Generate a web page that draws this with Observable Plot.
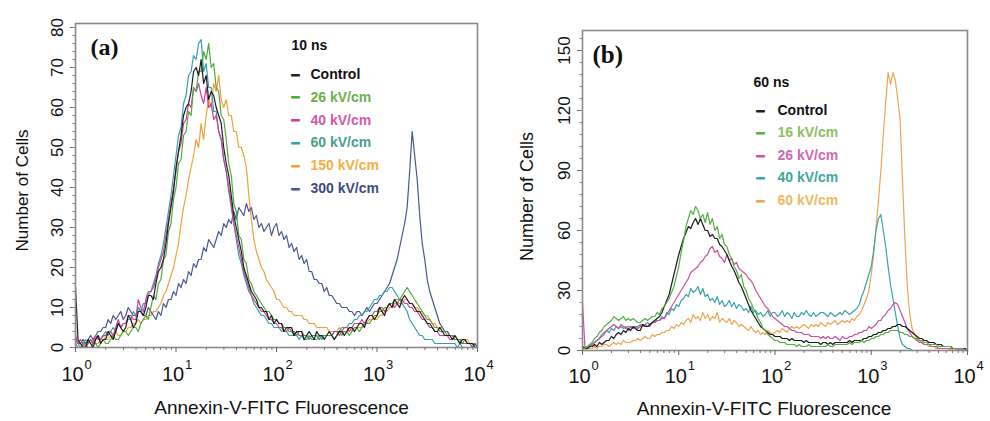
<!DOCTYPE html>
<html><head><meta charset="utf-8">
<script src="https://cdn.jsdelivr.net/npm/d3@7"></script>
<script src="https://cdn.jsdelivr.net/npm/@observablehq/plot@0.6"></script>
<style>
html,body{margin:0;padding:0;background:#fff;}
#wrap{position:relative;width:990px;height:421px;overflow:hidden;background:#fff;}
#pa{position:absolute;left:0;top:0;}
#pb{position:absolute;left:495px;top:0;}
svg{overflow:visible;}
</style></head><body>
<div id="wrap"><div id="pa"></div><div id="pb"></div></div>
<script>
// log10 of fluorescence channel (one row = a quarter decade)
const EXPONENTS = [
0.000,0.025,0.050,0.075,0.100,0.125,0.150,0.175,0.200,0.225,
0.250,0.275,0.300,0.325,0.350,0.375,0.400,0.425,0.450,0.475,
0.500,0.525,0.550,0.575,0.600,0.625,0.650,0.675,0.700,0.725,
0.750,0.775,0.800,0.825,0.850,0.875,0.900,0.925,0.950,0.975,
1.000,1.025,1.050,1.075,1.100,1.125,1.150,1.175,1.200,1.225,
1.250,1.275,1.300,1.325,1.350,1.375,1.400,1.425,1.450,1.475,
1.500,1.525,1.550,1.575,1.600,1.625,1.650,1.675,1.700,1.725,
1.750,1.775,1.800,1.825,1.850,1.875,1.900,1.925,1.950,1.975,
2.000,2.025,2.050,2.075,2.100,2.125,2.150,2.175,2.200,2.225,
2.250,2.275,2.300,2.325,2.350,2.375,2.400,2.425,2.450,2.475,
2.500,2.525,2.550,2.575,2.600,2.625,2.650,2.675,2.700,2.725,
2.750,2.775,2.800,2.825,2.850,2.875,2.900,2.925,2.950,2.975,
3.000,3.025,3.050,3.075,3.100,3.125,3.150,3.175,3.200,3.225,
3.250,3.275,3.300,3.325,3.350,3.375,3.400,3.425,3.450,3.475,
3.500,3.525,3.550,3.575,3.600,3.625,3.650,3.675,3.700,3.725,
3.750,3.775,3.800,3.825,3.850,3.875,3.900,3.925,3.950,3.975,
4.000];

const X_TICKS = [1, 10, 100, 1000, 10000];
const X_TICK_EXP = ["0", "1", "2", "3", "4"];
const X_MINOR = [2,3,4,5,6,7,8,9,20,30,40,50,60,70,80,90,200,300,400,500,600,700,800,900,2000,3000,4000,5000,6000,7000,8000,9000];

// ---------- Panel (a): 10 ns ----------
const A_NAMES = ["Control", "26 kV/cm", "40 kV/cm", "60 kV/cm", "150 kV/cm", "300 kV/cm"];
const A_LINE_COLORS = ["#1c1c1c", "#4ea83c", "#cc3f9a", "#35a0a8", "#f0a035", "#46568e"];
const A_TEXT_COLORS = ["#111111", "#6cb04e", "#d25aa8", "#4a9e92", "#f2b040", "#3c4a80"];
const A_Y_TICKS = [0, 10, 20, 30, 40, 50, 60, 70, 80];

const A_CONTROL = [
15,2,1,0,0,2,1,0,2,3,
1,2,2,4,3,2,4,6,5,4,
5,8,7,5,6,9,9,8,10,13,
13,12,16,19,20,22,26,31,35,39,
45,49,53,58,60,61,64,69,70,68,
72,66,68,62,64,63,60,58,56,50,
46,43,38,33,30,27,24,20,18,16,
14,13,12,10,10,9,9,7,8,6,
7,6,6,4,5,5,5,3,4,4,
4,2,3,4,3,2,4,3,3,2,
3,4,3,2,3,4,4,3,4,5,
5,4,5,6,6,5,7,8,8,7,
8,10,9,8,10,11,10,12,11,10,
12,13,12,11,11,10,9,9,8,7,
6,6,5,4,4,5,4,3,3,3,
2,3,2,1,2,2,1,1,1,0,
0];
const A_26 = [
1,0,0,1,1,0,0,1,1,0,
1,2,1,1,2,3,2,2,3,4,
4,3,4,5,5,4,6,7,8,7,
10,13,12,16,17,22,23,29,31,37,
40,46,47,53,54,59,58,65,64,69,
69,74,72,76,70,71,65,64,58,57,
52,46,43,36,34,28,27,22,21,17,
16,14,13,12,11,10,9,9,8,7,
7,6,6,5,5,4,4,4,3,4,
4,3,3,2,3,3,3,2,3,3,
3,3,3,2,3,4,3,4,4,3,
4,5,5,4,5,6,6,6,7,8,
8,9,9,10,10,11,11,12,12,12,
13,14,15,14,13,12,11,10,9,8,
7,7,6,5,5,4,4,4,3,3,
3,2,2,2,1,2,1,1,1,0,
0];
const A_40 = [
3,1,2,1,0,1,2,1,3,2,
2,3,3,4,4,3,5,7,5,6,
6,8,8,7,7,12,10,9,12,14,
14,15,17,20,22,24,28,32,36,40,
44,49,51,56,57,61,60,65,64,66,
63,61,65,60,61,57,58,54,52,47,
44,40,36,31,28,25,22,19,17,15,
13,12,11,10,9,9,8,7,7,6,
6,5,5,4,4,5,4,3,4,3,
3,3,3,2,3,3,3,2,3,3,
3,3,3,4,4,3,4,5,5,4,
5,6,6,6,7,6,7,8,8,9,
9,10,10,9,10,11,11,10,11,12,
12,11,11,10,10,9,9,8,7,7,
6,5,5,4,4,3,3,3,3,2,
2,2,2,1,1,1,1,1,1,0,
0];
const A_60 = [
2,1,0,1,2,1,2,1,2,3,
2,3,4,3,4,5,4,6,5,6,
6,7,7,9,8,10,9,11,11,13,
14,16,18,21,23,26,30,34,38,43,
48,53,55,61,63,68,69,73,72,76,
77,69,71,65,65,59,59,54,52,47,
44,39,35,31,27,23,21,18,16,14,
13,11,10,9,8,8,7,6,6,5,
5,5,4,4,4,3,3,3,3,2,
3,2,2,3,2,2,2,3,2,3,
3,3,3,4,4,4,5,5,5,6,
6,7,7,8,8,9,9,10,11,12,
12,13,13,14,14,15,15,14,13,12,
11,10,9,7,6,5,4,3,3,2,
2,2,2,1,1,1,1,1,1,1,
1,1,0,1,0,0,0,0,0,0,
0];
const A_150 = [
2,1,1,0,1,2,1,2,1,1,
2,3,2,2,3,3,4,3,3,4,
4,5,5,6,6,7,6,7,7,8,
8,9,9,10,11,13,14,16,18,20,
23,26,31,35,38,42,45,48,52,50,
56,52,58,62,60,66,64,68,62,60,
62,58,58,54,54,50,50,48,45,38,
32,27,24,22,20,19,17,16,15,14,
12,12,11,10,10,9,9,8,8,8,
8,7,7,6,6,6,5,5,5,5,
5,4,4,4,4,5,4,4,4,5,
4,5,5,5,5,6,6,7,7,7,
7,8,8,9,9,10,10,11,11,11,
11,12,12,11,11,10,10,9,9,8,
8,7,6,6,5,5,5,4,4,3,
3,3,2,2,2,2,2,1,1,1,
0];
const A_300 = [
2,1,1,2,1,2,3,2,3,4,
4,5,5,7,6,8,7,8,9,7,
8,10,9,8,8,10,9,8,8,10,
9,8,7,9,8,11,10,12,12,14,
13,16,15,17,16,19,18,21,20,22,
22,25,24,27,26,25,27,29,28,31,
30,32,31,34,32,35,34,33,36,34,
35,32,33,30,31,29,30,31,28,30,
31,28,29,27,28,25,26,24,25,22,
23,21,22,19,19,17,17,16,16,14,
15,13,13,12,11,11,10,10,10,9,
9,8,9,9,8,9,10,9,10,11,
11,12,13,14,15,16,18,20,22,25,
28,31,35,44,54,48,42,33,26,22,
17,14,12,10,8,6,5,4,4,3,
3,2,2,2,1,1,1,1,0,1,
0];

// ---------- Panel (b): 60 ns ----------
const B_NAMES = ["Control", "16 kV/cm", "26 kV/cm", "40 kV/cm", "60 kV/cm"];
const B_LINE_COLORS = ["#1c1c1c", "#52ad46", "#cc4fa0", "#36a3ad", "#eea550"];
const B_TEXT_COLORS = ["#111111", "#8cc063", "#d068b0", "#3fa7a0", "#f0b860"];
const B_Y_TICKS = [0, 30, 60, 90, 120, 150];

const B_CONTROL = [
2,1,1,2,2,3,2,4,3,4,
5,5,7,6,8,9,8,10,9,11,
10,12,11,10,10,13,12,12,13,14,
15,16,17,19,22,25,28,33,38,43,
48,52,56,59,62,61,64,66,63,66,
63,60,60,57,58,56,56,53,52,50,
48,45,42,40,37,34,32,29,26,23,
20,18,16,14,12,11,10,9,8,8,
7,7,7,6,6,6,5,6,5,5,
5,5,4,5,4,4,4,4,4,3,
4,4,3,4,3,4,4,4,4,4,
4,5,4,5,5,5,5,6,6,7,
7,8,8,9,9,10,10,11,11,12,
12,13,13,12,12,11,10,9,8,7,
6,6,5,5,4,4,4,3,3,3,
2,2,2,2,1,1,1,1,1,1,
0];
const B_16 = [
1,1,2,3,4,6,7,9,10,12,
13,14,15,17,16,15,16,17,15,16,
15,16,15,14,14,15,16,15,16,17,
17,19,18,21,22,24,26,29,32,37,
42,49,55,62,66,70,68,72,70,66,
68,64,69,63,66,60,62,56,58,53,
52,48,46,42,40,36,38,32,30,26,
24,21,19,16,14,11,10,8,7,6,
5,5,4,4,4,3,3,3,3,2,
3,2,2,2,3,2,2,2,2,2,
2,2,3,2,2,3,3,3,3,3,
3,4,3,4,4,4,5,4,5,5,
6,6,7,7,8,8,9,9,10,10,
10,10,9,9,8,8,7,7,6,6,
5,5,4,4,3,3,3,3,2,2,
2,2,2,2,1,1,1,1,1,0,
0];
const B_26 = [
24,2,1,2,3,4,5,6,8,9,
10,11,12,13,12,11,13,12,11,12,
12,11,12,11,12,13,13,12,12,14,
14,15,15,16,16,18,20,22,24,26,
28,30,32,34,36,39,40,41,42,44,
45,47,48,51,52,49,50,47,46,44,
48,45,46,43,44,41,40,39,38,36,
35,33,30,28,26,24,22,21,19,17,
16,15,14,13,12,12,11,10,10,9,
9,9,8,8,8,7,7,7,7,6,
7,6,7,6,6,7,6,5,7,6,
6,7,7,8,8,9,9,10,10,12,
11,12,13,15,15,17,18,20,21,23,
24,23,20,17,14,11,9,7,6,5,
4,4,3,3,3,2,2,2,1,1,
1,1,1,1,1,1,0,1,0,0,
0];
const B_40 = [
2,1,2,3,3,4,5,6,7,8,
10,9,11,10,12,11,12,11,12,10,
12,11,12,12,13,12,13,14,13,14,
14,15,15,17,16,19,18,21,20,23,
22,25,26,28,27,31,29,30,32,28,
31,27,28,25,26,24,27,23,25,22,
23,25,22,24,21,23,22,20,21,19,
22,19,20,18,19,17,18,20,17,19,
19,17,18,20,17,19,18,16,19,17,
17,19,18,20,18,17,19,17,18,19,
19,18,17,19,18,17,18,19,18,20,
19,18,19,20,21,23,27,30,34,38,
42,50,60,66,68,60,52,42,33,26,
19,12,6,3,2,1,1,0,0,0,
0,0,0,0,0,0,0,0,0,0,
0,0,0,0,0,0,0,0,0,0,
0];
const B_60 = [
1,0,1,1,1,2,1,2,2,3,
3,2,3,4,3,4,3,5,4,4,
4,5,5,6,5,6,7,6,6,8,
7,8,8,9,9,10,10,12,11,13,
12,14,13,15,16,14,18,16,17,15,
19,16,18,15,17,16,19,14,16,15,
14,16,13,15,14,12,13,12,11,10,
12,10,9,10,8,9,8,10,9,8,
9,10,9,11,10,9,11,12,11,12,
11,12,13,12,11,13,12,13,12,14,
13,12,14,13,14,15,13,14,15,14,
15,14,16,15,17,18,20,23,26,30,
38,48,62,75,90,108,124,139,133,139,
135,126,115,85,55,32,18,11,8,6,
5,4,3,3,2,2,2,1,1,1,
1,1,1,0,1,0,0,0,0,0,
0];

const SANS = '"Liberation Sans", Arial, Helvetica, sans-serif';
const SERIF = '"Liberation Serif", "Times New Roman", serif';

function buildPanel(cfg) {
  const marks = [];
  cfg.drawOrder.forEach(i => {
    const rows = cfg.values[i].map((v, j) => ({x: 10 ** EXPONENTS[j], y: v}));
    marks.push(Plot.line(rows, {x: "x", y: "y", stroke: cfg.lineColors[i], strokeWidth: 1.2, strokeLinejoin: "round"}));
  });
  marks.push(Plot.frame({stroke: "#8a8a8a", strokeWidth: 1.6}));
  marks.push(Plot.axisX(X_TICKS, {tickSize: 5, tickFormat: () => "", label: null, stroke: "#666"}));
  marks.push(Plot.axisX(X_MINOR, {tickSize: 3, tickFormat: () => "", label: null, stroke: "#777"}));
  marks.push(Plot.axisY(cfg.yTicks, {tickSize: 5, tickFormat: () => "", label: null, stroke: "#666"}));
  marks.push(Plot.axisY(cfg.yMinor, {tickSize: 2.5, tickFormat: () => "", label: null, stroke: "#888"}));
  marks.push(Plot.text(X_TICKS, {x: d => d, frameAnchor: "bottom", dy: cfg.xLabDy, dx: -3, text: () => "10",
    fontSize: 20, textAnchor: "middle", lineAnchor: "middle", fill: "#111", fontFamily: SANS}));
  marks.push(Plot.text(X_TICKS, {x: d => d, frameAnchor: "bottom", dy: cfg.xSupDy, dx: 9, text: (d, i) => X_TICK_EXP[i],
    fontSize: 13, textAnchor: "start", lineAnchor: "middle", fill: "#111", fontFamily: SANS}));
  marks.push(Plot.text(cfg.yTicks, {y: d => d, frameAnchor: "left", dx: -18, rotate: -90, text: d => String(d),
    fontSize: 17, textAnchor: "middle", lineAnchor: "middle", fill: "#111", fontFamily: SANS}));
  marks.push(Plot.text(["Annexin-V-FITC Fluorescence"], {frameAnchor: "bottom", dy: cfg.xTitleDy, dx: cfg.xTitleDx,
    fontSize: 19, textAnchor: "middle", lineAnchor: "middle", fill: "#111", fontFamily: SANS}));
  marks.push(Plot.text(["Number of Cells"], {frameAnchor: "left", dx: cfg.yTitleDx, dy: cfg.yTitleDy, rotate: -90,
    fontSize: cfg.yTitleSize, textAnchor: "middle", lineAnchor: "middle", fill: "#111", fontFamily: SANS}));
  marks.push(Plot.text([cfg.letter], {frameAnchor: "top-left", dx: cfg.letterDx, dy: cfg.letterDy,
    fontSize: cfg.letterSize, fontWeight: "bold", fontFamily: SERIF, textAnchor: "start", lineAnchor: "middle", fill: "#111"}));
  marks.push(Plot.text([cfg.ns], {frameAnchor: "top-left", dx: cfg.legTitleDx, dy: cfg.legTitleDy,
    fontSize: 14, fontWeight: "bold", fontFamily: SANS, textAnchor: "start", lineAnchor: "middle", fill: "#111"}));
  cfg.names.forEach((name, i) => {
    const dy = cfg.legDy + i * cfg.legStep;
    marks.push(Plot.text(["–"], {frameAnchor: "top-left", dx: cfg.legDashDx, dy, fontSize: 16, fontWeight: "bold",
      fontFamily: SANS, textAnchor: "middle", lineAnchor: "middle", fill: cfg.lineColors[i], stroke: cfg.lineColors[i], strokeWidth: 0.8}));
    marks.push(Plot.text([name], {frameAnchor: "top-left", dx: cfg.legTextDx, dy, fontSize: 14, fontWeight: "bold",
      fontFamily: SANS, textAnchor: "start", lineAnchor: "middle", fill: cfg.textColors[i]}));
  });
  return Plot.plot({
    width: 495, height: 421,
    marginLeft: cfg.m[0], marginRight: cfg.m[1], marginTop: cfg.m[2], marginBottom: cfg.m[3],
    x: {type: "log", domain: [1, 10000]},
    y: {domain: [0, cfg.ymax]},
    style: {fontFamily: SANS, background: "transparent", overflow: "visible"},
    marks
  });
}

const A_MINOR_Y = d3.range(0, 81, 2);
const B_MINOR_Y = d3.range(0, 161, 6);

document.getElementById("pa").append(buildPanel({
  names: A_NAMES, values: [A_CONTROL, A_26, A_40, A_60, A_150, A_300],
  lineColors: A_LINE_COLORS, textColors: A_TEXT_COLORS,
  drawOrder: [4, 5, 3, 2, 1, 0],
  ymax: 81, yTicks: A_Y_TICKS, yMinor: A_MINOR_Y,
  m: [75, 18, 23, 74],
  xLabDy: 27, xSupDy: 17, xTitleDy: 60, xTitleDx: 5,
  yTitleDx: -53, yTitleDy: 5, yTitleSize: 17,
  letter: "(a)", letterDx: 15, letterDy: 24, letterSize: 24,
  ns: "10 ns", legTitleDx: 216, legTitleDy: 22,
  legDashDx: 220, legTextDx: 235, legDy: 51, legStep: 22.8
}));

document.getElementById("pb").append(buildPanel({
  names: B_NAMES, values: [B_CONTROL, B_16, B_26, B_40, B_60],
  lineColors: B_LINE_COLORS, textColors: B_TEXT_COLORS,
  drawOrder: [4, 3, 2, 0, 1],
  ymax: 160, yTicks: B_Y_TICKS, yMinor: B_MINOR_Y,
  m: [87, 23, 30, 71],
  xLabDy: 26, xSupDy: 15, xTitleDy: 58, xTitleDx: -11,
  yTitleDx: -55, yTitleDy: 6, yTitleSize: 18,
  letter: "(b)", letterDx: 10, letterDy: 24, letterSize: 25,
  ns: "60 ns", legTitleDx: 171, legTitleDy: 52,
  legDashDx: 178, legTextDx: 195, legDy: 80, legStep: 22.5
}));
</script>
</body></html>
